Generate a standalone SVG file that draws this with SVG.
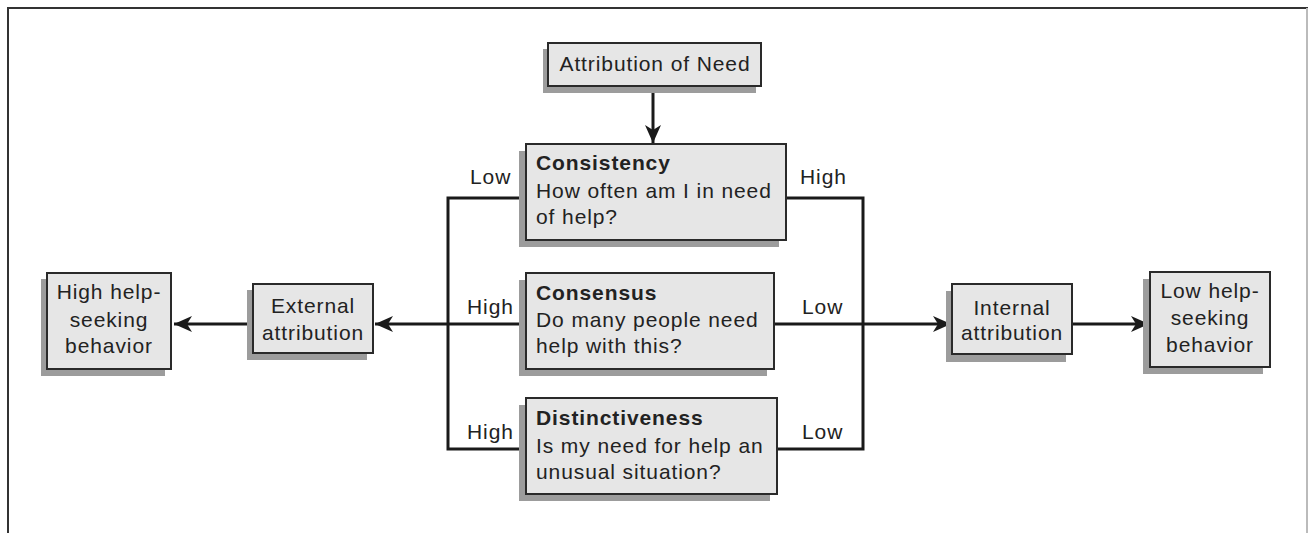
<svg xmlns="http://www.w3.org/2000/svg" width="1309" height="533" viewBox="0 0 1309 533">
<style>
.shadow{fill:#9c9c9c;}
.box{fill:#e6e6e6;stroke:#2a2a2a;stroke-width:2;}
text{font-family:"Liberation Sans",Arial,sans-serif;font-size:21px;fill:#222;letter-spacing:0.9px;}
.b{font-weight:bold;}
.c{text-anchor:middle;}
.line{fill:none;stroke:#1a1a1a;stroke-width:3;}
</style>
<defs>
<marker id="arr" markerUnits="userSpaceOnUse" markerWidth="20" markerHeight="18" refX="18" refY="9" orient="auto">
<path d="M0,1 L18,9 L0,17 L5,9 z" fill="#1a1a1a"/>
</marker>
</defs>
<rect x="0" y="0" width="1309" height="533" fill="#fff"/>
<path d="M8,533 V8 H1307 V533" fill="none" stroke="#333" stroke-width="2"/>
<line x1="1307" y1="8" x2="1307" y2="533" stroke="#bbb" stroke-width="2"/>

<g id="connectors">
<line class="line" x1="653" y1="86" x2="653" y2="143" marker-end="url(#arr)"/>
<path class="line" d="M526,198 H448 V449 H526"/>
<path class="line" d="M786,198 H863 V449 H777"/>
<line class="line" x1="526" y1="324" x2="375" y2="324" marker-end="url(#arr)"/>
<line class="line" x1="253" y1="324" x2="174" y2="324" marker-end="url(#arr)"/>
<line class="line" x1="774" y1="324" x2="951" y2="324" marker-end="url(#arr)"/>
<line class="line" x1="1072" y1="324" x2="1149" y2="324" marker-end="url(#arr)"/>
<text x="470" y="184">Low</text>
<text x="800" y="184">High</text>
<text x="467" y="314">High</text>
<text x="802" y="314">Low</text>
<text x="467" y="439">High</text>
<text x="802" y="439">Low</text>
</g>

<g id="attribution-of-need">
<rect class="shadow" x="543" y="49" width="213" height="44"/>
<rect class="box" x="548" y="43" width="213" height="43"/>
<text class="c" x="655" y="71">Attribution of Need</text>
</g>

<g id="consistency">
<rect class="shadow" x="519" y="151" width="260" height="96"/>
<rect class="box" x="526" y="144" width="260" height="96"/>
<text class="b" x="536" y="170">Consistency</text>
<text x="536" y="198">How often am I in need</text>
<text x="536" y="224">of help?</text>
</g>

<g id="consensus">
<rect class="shadow" x="519" y="280" width="248" height="96"/>
<rect class="box" x="526" y="273" width="248" height="96"/>
<text class="b" x="536" y="300">Consensus</text>
<text x="536" y="327">Do many people need</text>
<text x="536" y="353">help with this?</text>
</g>

<g id="distinctiveness">
<rect class="shadow" x="519" y="405" width="251" height="96"/>
<rect class="box" x="526" y="398" width="251" height="96"/>
<text class="b" x="536" y="425">Distinctiveness</text>
<text x="536" y="453">Is my need for help an</text>
<text x="536" y="479">unusual situation?</text>
</g>

<g id="external-attribution">
<rect class="shadow" x="247" y="290" width="120" height="70"/>
<rect class="box" x="253" y="284" width="120" height="69"/>
<text class="c" x="313" y="313">External</text>
<text class="c" x="313" y="340">attribution</text>
</g>

<g id="high-help-seeking">
<rect class="shadow" x="41" y="279" width="124" height="97"/>
<rect class="box" x="47" y="273" width="124" height="96"/>
<text class="c" x="109" y="299">High help-</text>
<text class="c" x="109" y="327">seeking</text>
<text class="c" x="109" y="353">behavior</text>
</g>

<g id="internal-attribution">
<rect class="shadow" x="946" y="291" width="120" height="71"/>
<rect class="box" x="952" y="284" width="120" height="70"/>
<text class="c" x="1012" y="315">Internal</text>
<text class="c" x="1012" y="340">attribution</text>
</g>

<g id="low-help-seeking">
<rect class="shadow" x="1143" y="279" width="120" height="95"/>
<rect class="box" x="1150" y="272" width="120" height="95"/>
<text class="c" x="1210" y="298">Low help-</text>
<text class="c" x="1210" y="325">seeking</text>
<text class="c" x="1210" y="352">behavior</text>
</g>
</svg>
